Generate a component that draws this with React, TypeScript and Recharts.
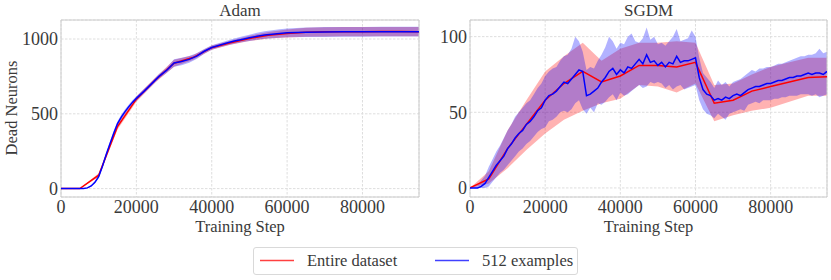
import React from "react";
import { Area, CartesianGrid, ComposedChart, Line, ReferenceArea, XAxis, YAxis } from "recharts";

const FONT = '"Liberation Serif", "DejaVu Serif", serif';
const RED = "#ff0000";
const BLUE = "#0000ff";
const TEXT = "#3a3a3a";

// "Entire dataset" runs are logged every 5000 steps
const fullSteps = [0, 5000, 10000, 15000, 20000, 25000, 30000, 35000, 40000, 45000, 50000, 55000, 60000, 65000, 70000, 75000, 80000, 85000, 90000, 95000];
const xTicks = [0, 20000, 40000, 60000, 80000];

// Adam panel
const adamFullMean = [0, 0, 90, 415, 598, 725, 838, 876, 942, 975, 1004, 1025, 1037, 1045, 1048, 1049, 1049, 1050, 1050, 1049];
const adamFullSpread = [0, 0, 12, 20, 18, 16, 24, 16, 14, 14, 18, 22, 27, 30, 31, 31, 31, 31, 31, 31];
const adamSubSteps = [0, 2000, 4000, 5000, 6000, 7000, 8000, 9000, 10000, 11000, 12000, 13000, 14000, 15000, 16000, 17000, 18000, 19000, 20000, 22000, 24000, 26000, 28000, 30000, 32000, 34000, 36000, 38000, 40000, 42000, 44000, 46000, 48000, 50000, 52000, 54000, 56000, 58000, 60000, 65000, 70000, 75000, 80000, 85000, 90000, 95000];
const adamSubMean = [0, 0, 0, 0, 1, 5, 18, 42, 80, 150, 228, 300, 370, 435, 478, 515, 548, 578, 603, 650, 700, 750, 790, 840, 850, 864, 885, 918, 943, 958, 973, 986, 997, 1008, 1018, 1026, 1032, 1037, 1041, 1045, 1047, 1048, 1048, 1049, 1049, 1049];
const adamSubSpread = [0, 0, 0, 0, 1, 3, 5, 8, 10, 12, 14, 15, 16, 16, 16, 16, 15, 15, 15, 15, 15, 16, 18, 25, 25, 22, 19, 16, 15, 15, 16, 17, 19, 21, 23, 25, 27, 29, 30, 32, 33, 33, 33, 33, 33, 33];

// SGDM panel
const sgdmFullMean = [0, 6, 26, 42, 58, 69, 77, 70, 74, 81, 81, 80, 83, 56, 58, 64, 67, 70, 73, 73.5];
const sgdmFullLow = [0, 3, 13, 25, 36, 45, 51, 56, 59, 68, 67, 63, 69, 44, 48, 51, 53, 57, 61, 61];
const sgdmFullHigh = [0, 11, 38, 58, 77, 87, 96, 84, 92, 96, 96, 97, 96, 68, 69, 75, 80, 83, 86, 86];
const sgdmSubSteps = Array.from({ length: 96 }, (_, i) => i * 1000);
const sgdmSubMean = [
  0, 0, 0, 1, 3, 7, 11, 15, 18, 21, 26, 29, 33, 36, 38, 42, 44, 47, 51, 53,
  58, 61, 62, 64, 67, 70, 69, 72, 75, 78, 77, 61, 62, 64, 66, 70, 73, 77, 79, 75,
  78, 76, 80, 79, 82, 85, 82, 88, 83, 84, 81, 83, 80, 83, 82, 87, 83, 84, 84, 85,
  86, 73, 65, 62, 61, 58, 59, 58, 60, 59, 61, 62, 61, 63, 65, 66, 67, 67, 68, 69,
  69, 70, 71, 71, 72, 73, 73, 74, 74, 75, 76, 75, 76, 76, 75, 77,
];
const sgdmSubHigh = [
  0, 1, 2, 5, 8, 14, 19, 24, 28, 33, 38, 42, 47, 50, 53, 56, 58, 62, 66, 69,
  74, 77, 79, 80, 84, 87, 88, 92, 100, 97, 90, 78, 80, 79, 84, 88, 93, 100, 97, 92,
  96, 95, 100, 102, 97, 96, 99, 106, 98, 100, 95, 96, 94, 97, 100, 105, 97, 98, 99, 104,
  100, 86, 76, 73, 70, 66, 71, 68, 70, 67, 70, 71, 72, 74, 76, 78, 77, 79, 79, 80,
  80, 81, 82, 82, 83, 84, 85, 86, 87, 87, 88, 88, 89, 92, 89, 90,
];
const sgdmSubLow = [
  0, 0, 0, 0, 0, 1, 4, 7, 10, 12, 15, 18, 21, 24, 26, 29, 31, 34, 37, 39,
  40, 44, 45, 47, 50, 51, 50, 52, 56, 58, 52, 49, 53, 50, 56, 55, 57, 60, 62, 58,
  63, 61, 62, 64, 66, 68, 66, 67, 70, 69, 70, 69, 66, 68, 65, 67, 68, 65, 66, 67,
  68, 58, 52, 49, 48, 46, 49, 47, 45, 49, 50, 51, 52, 51, 55, 56, 57, 56, 58, 58,
  58, 59, 59, 60, 60, 61, 61, 61, 62, 62, 62, 61, 62, 60, 61, 62,
];

type Row = { step: number; full?: number; fullBand?: number[]; sub?: number; subBand?: number[] };

function buildRows(
  fullMean: number[], fullLow: number[], fullHigh: number[],
  subSteps: number[], subMean: number[], subLow: number[], subHigh: number[],
): Row[] {
  const map = new Map<number, Row>();
  const get = (s: number) => {
    if (!map.has(s)) map.set(s, { step: s });
    return map.get(s)!;
  };
  fullSteps.forEach((s, i) => {
    const r = get(s);
    r.full = fullMean[i];
    r.fullBand = [fullLow[i], fullHigh[i]];
  });
  subSteps.forEach((s, i) => {
    const r = get(s);
    r.sub = subMean[i];
    r.subBand = [subLow[i], subHigh[i]];
  });
  return [...map.values()].sort((a, b) => a.step - b.step);
}

const adamRows = buildRows(
  adamFullMean,
  adamFullMean.map((v, i) => v - adamFullSpread[i]),
  adamFullMean.map((v, i) => v + adamFullSpread[i]),
  adamSubSteps,
  adamSubMean,
  adamSubMean.map((v, i) => v - adamSubSpread[i]),
  adamSubMean.map((v, i) => v + adamSubSpread[i]),
);
const sgdmRows = buildRows(sgdmFullMean, sgdmFullLow, sgdmFullHigh, sgdmSubSteps, sgdmSubMean, sgdmSubLow, sgdmSubHigh);

type PanelProps = {
  rows: Row[];
  title: string;
  yDomain: [number, number];
  yTicks: number[];
  width: number;
  yAxisWidth: number;
  marginRight: number;
  yLabel?: string;
};

function Panel({ rows, title, yDomain, yTicks, width, yAxisWidth, marginRight, yLabel }: PanelProps) {
  const plotWidth = width - yAxisWidth - marginRight;
  return (
    <div style={{ position: "relative", width, height: 240 }}>
      <div
        style={{
          position: "absolute",
          left: yAxisWidth,
          width: plotWidth,
          top: 1,
          textAlign: "center",
          fontFamily: FONT,
          fontSize: 17,
          lineHeight: "20px",
          color: TEXT,
        }}
      >
        {title}
      </div>
      <ComposedChart width={width} height={240} data={rows} margin={{ top: 20, right: marginRight, bottom: 13, left: 0 }}>
        <CartesianGrid stroke="#dedede" strokeDasharray="2.5 1.5" />
        <XAxis
          type="number"
          dataKey="step"
          domain={[0, 95000]}
          ticks={xTicks}
          allowDataOverflow
          height={30}
          tickLine={false}
          axisLine={false}
          tickSize={0}
          tickMargin={3}
          tick={{ fontSize: 18, fill: TEXT, fontFamily: FONT }}
          label={(p: any) => (
            <text
              x={p.viewBox.x + p.viewBox.width / 2}
              y={231.5}
              textAnchor="middle"
              fontSize={16.5}
              fontFamily={FONT}
              fill={TEXT}
            >
              Training Step
            </text>
          )}
        />
        <YAxis
          type="number"
          domain={yDomain}
          ticks={yTicks}
          allowDataOverflow
          width={yAxisWidth}
          tickLine={false}
          axisLine={false}
          tickSize={0}
          tickMargin={3}
          tick={{ fontSize: 18, fill: TEXT, fontFamily: FONT }}
          label={
            yLabel
              ? () => (
                  <text
                    x={11}
                    y={108}
                    transform="rotate(-90 11 108)"
                    textAnchor="middle"
                    dominantBaseline="central"
                    fontSize={16.5}
                    fontFamily={FONT}
                    fill={TEXT}
                  >
                    {yLabel}
                  </text>
                )
              : undefined
          }
        />
        <Area dataKey="fullBand" type="linear" stroke="none" fill={RED} fillOpacity={0.3} connectNulls isAnimationActive={false} dot={false} activeDot={false} />
        <Area dataKey="subBand" type="linear" stroke="none" fill={BLUE} fillOpacity={0.3} connectNulls isAnimationActive={false} dot={false} activeDot={false} />
        <Line dataKey="full" type="linear" stroke={RED} strokeWidth={1.5} dot={false} activeDot={false} connectNulls isAnimationActive={false} />
        <Line dataKey="sub" type="linear" stroke={BLUE} strokeWidth={1.5} dot={false} activeDot={false} connectNulls isAnimationActive={false} />
        <ReferenceArea x1={0} x2={95000} y1={yDomain[0]} y2={yDomain[1]} fill="none" stroke="#cccccc" strokeWidth={1} ifOverflow="visible" />
      </ComposedChart>
    </div>
  );
}

function LegendBox() {
  const item = (color: string, label: string, left: number, textLeft: number) => (
    <>
      <svg style={{ position: "absolute", left, top: 11 }} width={34} height={3}>
        <line x1={0} y1={1.5} x2={34} y2={1.5} stroke={color} strokeWidth={1.5} />
      </svg>
      <span style={{ position: "absolute", left: textLeft, top: 3, fontSize: 16.5, lineHeight: "20px", whiteSpace: "nowrap" }}>
        {label}
      </span>
    </>
  );
  return (
    <div
      style={{
        position: "absolute",
        left: 253,
        top: 247,
        width: 323,
        height: 26,
        border: "1px solid #d9d9d9",
        borderRadius: 3,
        fontFamily: FONT,
        color: TEXT,
        background: "#fff",
      }}
    >
      {item("#ff4040", "Entire dataset", 6, 53)}
      {item("#4040ff", "512 examples", 181, 228)}
    </div>
  );
}

export default function App() {
  return (
    <div style={{ position: "absolute", left: 0, top: 0, width: 831, height: 280, background: "#fff", overflow: "hidden" }}>
      <div style={{ position: "absolute", left: 0, top: 0 }}>
        <Panel rows={adamRows} title="Adam" yDomain={[-56, 1127]} yTicks={[0, 500, 1000]} width={420} yAxisWidth={61} marginRight={1} yLabel="Dead Neurons" />
      </div>
      <div style={{ position: "absolute", left: 420, top: 0 }}>
        <Panel rows={sgdmRows} title="SGDM" yDomain={[-6, 111]} yTicks={[0, 50, 100]} width={411} yAxisWidth={50} marginRight={4} />
      </div>
      <LegendBox />
    </div>
  );
}
